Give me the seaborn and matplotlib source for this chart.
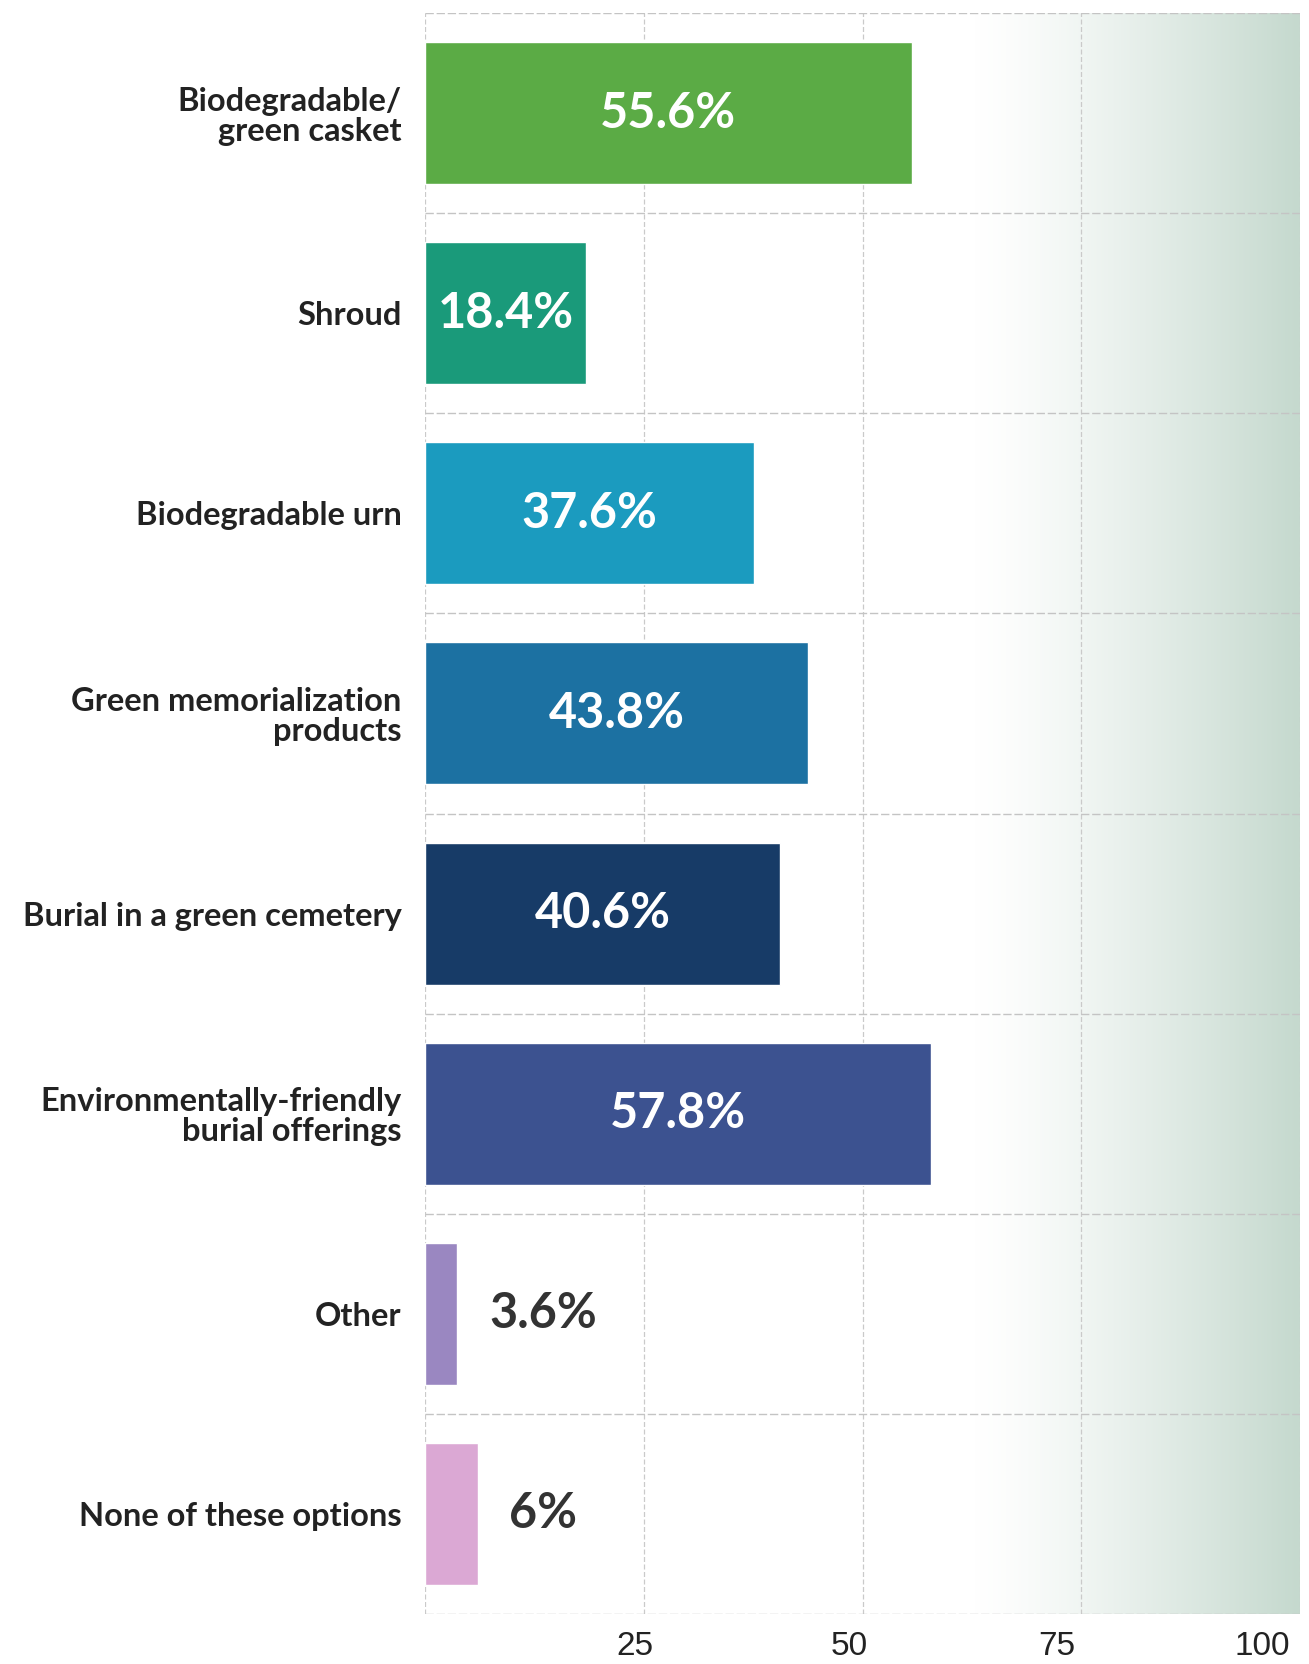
import numpy as np
import pandas as pd
import matplotlib
matplotlib.use("Agg")
import matplotlib.pyplot as plt
import matplotlib.transforms as mtransforms
from matplotlib import font_manager
import seaborn as sns

categories = [
    "Biodegradable/\ngreen casket",
    "Shroud",
    "Biodegradable urn",
    "Green memorialization\nproducts",
    "Burial in a green cemetery",
    "Environmentally-friendly\nburial offerings",
    "Other",
    "None of these options",
]
values = [55.6, 18.4, 37.6, 43.8, 40.6, 57.8, 3.6, 6.0]
value_labels = ["55.6%", "18.4%", "37.6%", "43.8%", "40.6%", "57.8%", "3.6%", "6%"]
colors = ["#5bab45", "#1a9a7a", "#1b9bbf", "#1c71a2", "#173b67", "#3c5290", "#9a87c1", "#dba8d4"]
xticks = [25, 50, 75, 100]

sns.set_theme(style="white")
names = {f.name for f in font_manager.fontManager.ttflist}
label_font = "Lato" if "Lato" in names else "DejaVu Sans"
tick_font = "Liberation Sans Narrow" if "Liberation Sans Narrow" in names else "Liberation Sans"
plt.rcParams["font.family"] = [label_font, "DejaVu Sans"]

df = pd.DataFrame({"category": categories, "value": values})

fig = plt.figure(figsize=(13.09, 16.64), dpi=100)
ax = fig.add_axes([425 / 1309, 1 - 1614 / 1664, (1300 - 425) / 1309, (1614 - 13) / 1664])

# background gradient on the right
xs = np.linspace(0, 1, 300)
t = np.clip((xs - 0.63) / 0.37, 0, 1) ** 1.25
start = np.array([1.0, 1.0, 1.0])
end = np.array([0xc5, 0xd9, 0xce]) / 255.0
grad = start[None, :] * (1 - t[:, None]) + end[None, :] * t[:, None]
ax.imshow(grad[None, :, :], extent=[0, 100, 7.5, -0.5], aspect="auto", zorder=0, interpolation="bilinear")

sns.barplot(data=df, x="value", y="category", hue="category", palette=colors,
            orient="h", width=0.71, legend=False, ax=ax, zorder=3, saturation=1)

ax.set_xlim(0, 100)
ax.set_ylim(7.5, -0.5)
for s in ax.spines.values():
    s.set_visible(False)

for xv in [0] + xticks:
    ax.axvline(xv, color="#cacaca", lw=0.9, ls=(0, (4, 2)), zorder=1)
for yv in np.arange(-0.5, 8.0, 1.0):
    ax.axhline(yv, color="#c4c4c4", lw=1.0, ls=(0, (6, 2)), zorder=1)

ax.set_xticks(xticks)
ax.set_xticklabels([str(v) for v in xticks], fontsize=24, color="#222222", family=[tick_font, "DejaVu Sans"])
ax.tick_params(axis="x", length=0, pad=12)
ax.tick_params(axis="y", length=0, pad=17)
ax.set_yticks(range(len(categories)))
ax.set_yticklabels(categories, fontsize=23.5, fontweight="bold", color="#222222", linespacing=1.05)
ax.set_xlabel("")
ax.set_ylabel("")

# tick labels sit slightly left of their gridlines in the reference
shifts = [-9, -13, -24, -38]
for lab, dx in zip(ax.get_xticklabels(), shifts):
    lab.set_transform(lab.get_transform() + mtransforms.ScaledTranslation(dx / 100, 0, fig.dpi_scale_trans))

for i, (v, lab) in enumerate(zip(values, value_labels)):
    if v > 15:
        ax.text(v / 2, i, lab, ha="center", va="center", color="white",
                fontsize=35, fontweight="bold", zorder=5)
    else:
        ax.text(13.5, i, lab, ha="center", va="center", color="#333333",
                fontsize=35, fontweight="bold", zorder=5)

fig.savefig("out.png", dpi=100)
